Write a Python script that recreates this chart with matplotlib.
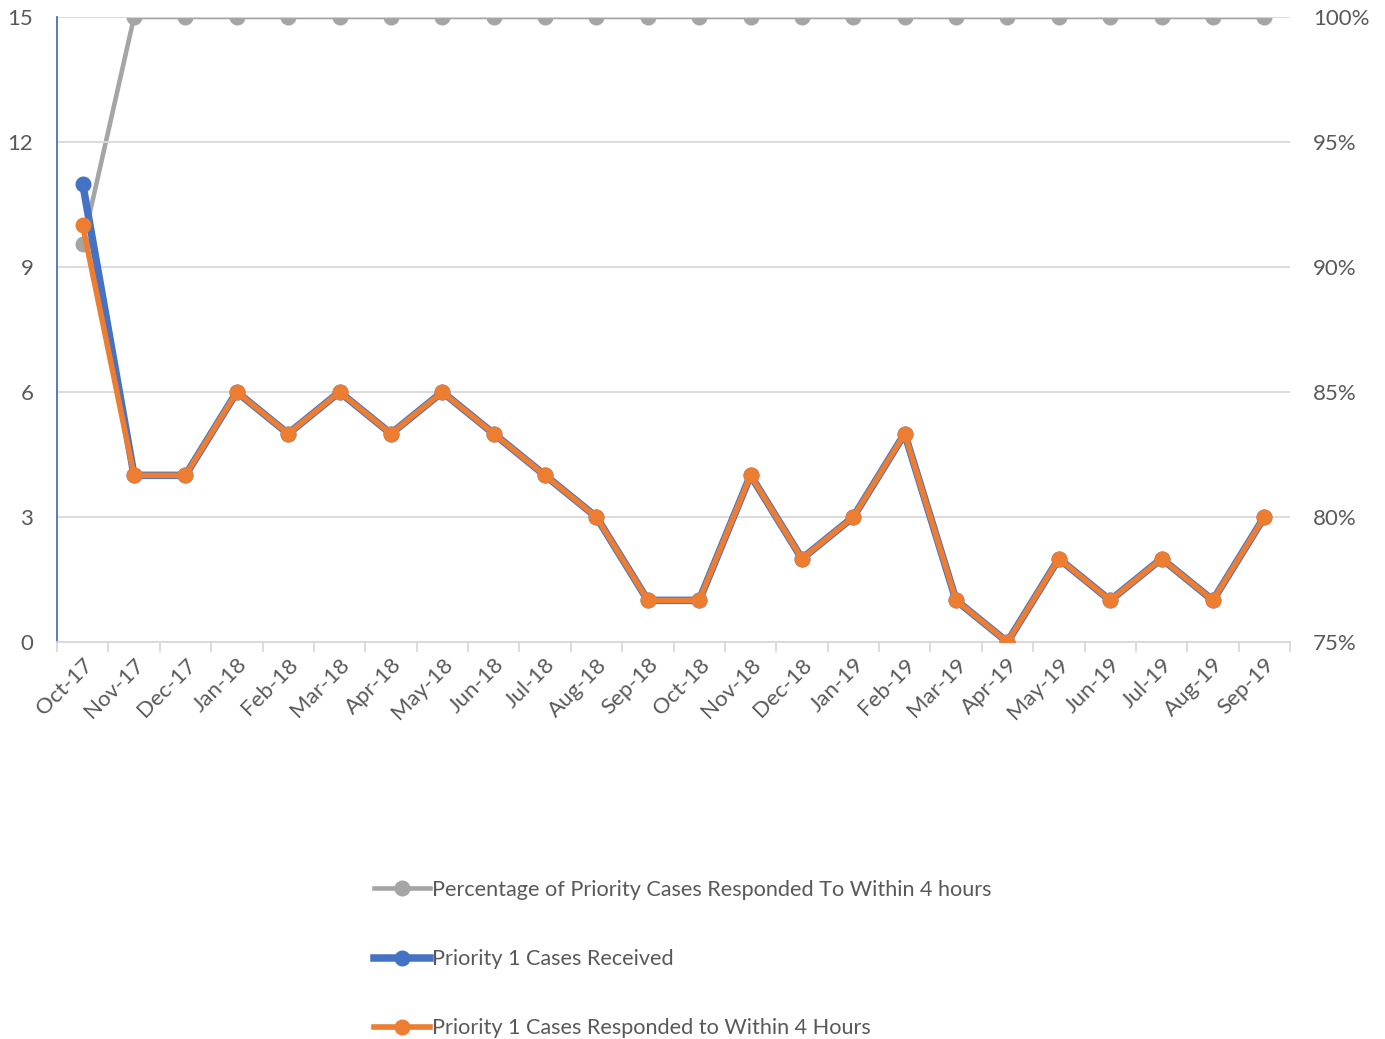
import matplotlib
matplotlib.use("Agg")
import matplotlib.pyplot as plt
from matplotlib.ticker import FixedLocator, PercentFormatter

months = ["Oct-17", "Nov-17", "Dec-17", "Jan-18", "Feb-18", "Mar-18", "Apr-18", "May-18",
          "Jun-18", "Jul-18", "Aug-18", "Sep-18", "Oct-18", "Nov-18", "Dec-18", "Jan-19",
          "Feb-19", "Mar-19", "Apr-19", "May-19", "Jun-19", "Jul-19", "Aug-19", "Sep-19"]
received = [11, 4, 4, 6, 5, 6, 5, 6, 5, 4, 3, 1, 1, 4, 2, 3, 5, 1, 0, 2, 1, 2, 1, 3]
responded = [10, 4, 4, 6, 5, 6, 5, 6, 5, 4, 3, 1, 1, 4, 2, 3, 5, 1, 0, 2, 1, 2, 1, 3]
percentage = [90.9] + [100.0] * 23

GRAY = "#a5a5a5"
BLUE = "#4472c4"
ORANGE = "#ed7d31"
TXT = "#595959"
GRID = "#d9d9d9"

plt.rcParams["font.family"] = ["Lato", "DejaVu Sans"]

fig = plt.figure(figsize=(13.85, 10.39), dpi=100)
ax = fig.add_axes([57/1385, 1-642/1039, (1290-57)/1385, (642-17)/1039])
ax2 = ax.twinx()

x = list(range(len(months)))

lg, = ax2.plot(x, percentage, color=GRAY, lw=3.3, marker="o", ms=10.5, zorder=3,
               label="Percentage of Priority Cases Responded To Within 4 hours")
lb, = ax.plot(x, received, color=BLUE, lw=5.4, marker="o", ms=10.5, zorder=3,
              label="Priority 1 Cases Received")
lo, = ax.plot(x, responded, color=ORANGE, lw=4.0, marker="o", ms=10.5, zorder=4,
              label="Priority 1 Cases Responded to Within 4 Hours")

ax.set_zorder(ax2.get_zorder() + 1)
ax.patch.set_visible(False)

ax.set_xlim(-0.5, len(months) - 0.5)
ax.set_ylim(0, 15)
ax2.set_ylim(75, 100)
ax.set_yticks([0, 3, 6, 9, 12, 15])
ax2.set_yticks([75, 80, 85, 90, 95, 100])
ax2.yaxis.set_major_formatter(PercentFormatter(decimals=0))

ax.grid(axis="y", color=GRID, lw=1.3)
ax.set_axisbelow(True)

ax.set_xticks(x)
ax.set_xticklabels(months, rotation=45, ha="right", rotation_mode="anchor")
ax.xaxis.set_minor_locator(FixedLocator([i - 0.5 for i in range(len(months) + 1)]))
ax.tick_params(axis="x", which="major", length=0, pad=9, labelsize=16, labelcolor=TXT)
ax.tick_params(axis="x", which="minor", length=7, width=1.3, color=GRID)
ax.tick_params(axis="y", length=0, pad=17, labelsize=16, labelcolor=TXT)
ax2.tick_params(axis="y", length=0, pad=16.5, labelsize=16, labelcolor=TXT)

for a in (ax, ax2):
    for s in ("top", "right", "left", "bottom"):
        a.spines[s].set_visible(False)
ax.spines["bottom"].set_visible(True)
ax.spines["bottom"].set_color(GRID)
ax.spines["bottom"].set_linewidth(1.3)
ax.spines["left"].set_visible(True)
ax.spines["left"].set_color(BLUE)
ax.spines["left"].set_linewidth(1.3)

leg = fig.legend(handles=[lg, lb, lo], loc="upper left",
                 bbox_to_anchor=(374/1385, 1-880/1039), frameon=False,
                 fontsize=15.6, labelspacing=2.27, handlelength=2.6, handletextpad=0.1,
                 borderaxespad=0, borderpad=0)
for t in leg.get_texts():
    t.set_color(TXT)

fig.savefig("out.png", dpi=100)
